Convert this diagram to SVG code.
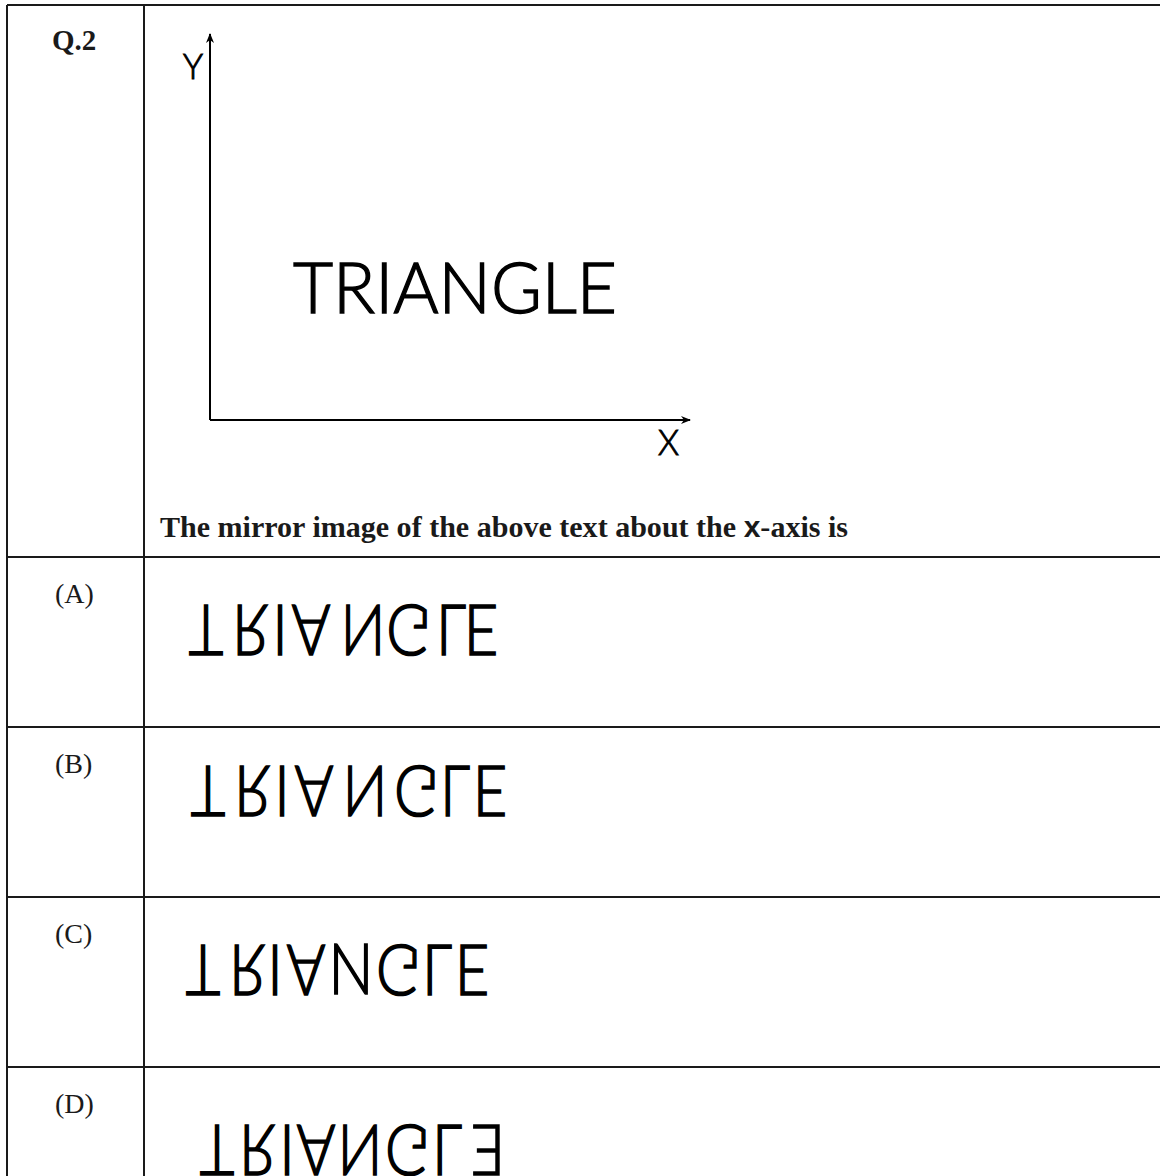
<svg xmlns="http://www.w3.org/2000/svg" width="1160" height="1176" viewBox="0 0 1160 1176">
<style>
.grid{stroke:#1a1a1a;stroke-width:2;fill:none}
.axis{stroke:#000;stroke-width:2;fill:none}
.q{font-family:"Liberation Serif","Times New Roman",serif;font-weight:bold;font-size:29px;fill:#1a1a1a}
.lbl{font-family:"Liberation Serif","Times New Roman",serif;font-size:28px;fill:#1a1a1a}
.word{font-family:Lato,"Open Sans",sans-serif;font-weight:300;font-size:71px;fill:#000;stroke:#000;stroke-width:1.4}
.opt{font-family:Lato,"Open Sans",sans-serif;font-weight:300;font-size:70px;fill:#000;stroke:#000;stroke-width:1.6}
.ax{font-family:Lato,"Open Sans",sans-serif;font-weight:300;font-size:36px;fill:#000;stroke:#000;stroke-width:1}
</style>
<defs>
<marker id="ah" viewBox="0 0 10 10" refX="9" refY="5" markerWidth="10" markerHeight="10" markerUnits="userSpaceOnUse" orient="auto">
<path d="M0,1 L10,5 L0,9 L3,5 Z" fill="#000"/>
</marker>
</defs>
<rect width="1160" height="1176" fill="#fff"/>
<g id="table">
<path class="grid" d="M7,5 H1160 M7,5 V1176 M144,5 V1176 M7,557 H1160 M7,727 H1160 M7,897 H1160 M7,1067 H1160"/>
</g>
<g id="question">
<text class="q" x="52" y="50">Q.2</text>
<text class="q" x="160" y="537" textLength="688" lengthAdjust="spacingAndGlyphs">The mirror image of the above text about the <tspan font-family="Liberation Sans, Arial, sans-serif">x</tspan>-axis is</text>
</g>
<g id="axes">
<line class="axis" x1="210" y1="420" x2="210" y2="34" marker-end="url(#ah)"/>
<line class="axis" x1="210" y1="420" x2="690" y2="420" marker-end="url(#ah)"/>
<text class="ax" x="183" y="79" textLength="20" lengthAdjust="spacingAndGlyphs">Y</text>
<text class="ax" x="658" y="455" textLength="21" lengthAdjust="spacingAndGlyphs">X</text>
<text class="word" x="293" y="313" textLength="324" lengthAdjust="spacingAndGlyphs">TRIANGLE</text>
</g>
<g id="option-a">
<text class="lbl" x="55" y="603">(A)</text>
<g transform="translate(0,605) scale(0.85,-1)">
<text class="opt" text-anchor="middle" x="242.4 294.1 329.4 365.9 427.1 480 530.6 565.9" y="0">TRIANGLE</text>
</g>
</g>
<g id="option-b">
<text class="lbl" x="55" y="773">(B)</text>
<g transform="translate(0,766) scale(0.85,-1)">
<text class="opt" text-anchor="middle" x="244.7 296.5 331.8 369.4 429.4 489.4 535.3 576.5" y="0">TRIANGLE</text>
</g>
</g>
<g id="option-c">
<text class="lbl" x="55" y="943">(C)</text>
<g transform="translate(0,945) scale(0.85,-1)">
<text class="opt" text-anchor="middle" x="238.8 290.6 323.5 360 468.2 514.1 555.3" y="0">TRIAGLE</text>
</g>
<g transform="translate(0,994) scale(0.85,1)">
<text class="opt" text-anchor="middle" x="412.9" y="0">N</text>
</g>
</g>
<g id="option-d">
<text class="lbl" x="55" y="1113">(D)</text>
<g transform="translate(0,1125) scale(0.85,-1)">
<text class="opt" text-anchor="middle" x="255.3 302.4 337.6 371.8 423.5 478.8 525.9" y="0">TRIANGL</text>
</g>
<g transform="translate(488,1125) scale(-0.85,-1)">
<text class="opt" text-anchor="middle" x="0" y="0">E</text>
</g>
</g>
</svg>
